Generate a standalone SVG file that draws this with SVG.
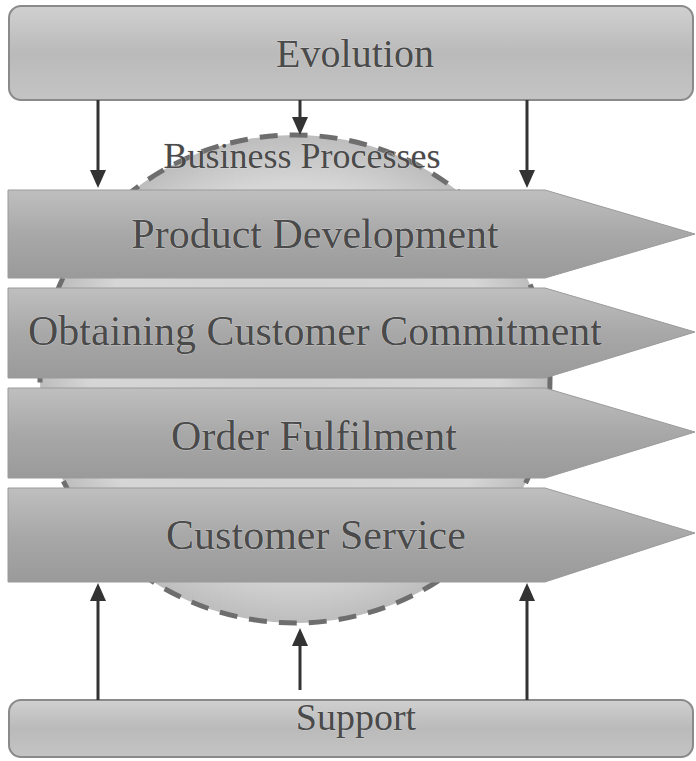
<svg xmlns="http://www.w3.org/2000/svg" width="696" height="761" viewBox="0 0 696 761">
<style>
.box{fill:url(#gBox);stroke:#8a8a8a;stroke-width:2}
.arrowShape{fill:url(#gArr);stroke:#9a9a9a;stroke-width:1}
.lbl{font-family:"Liberation Serif","Times New Roman",serif;fill:#4a4a4a;text-anchor:middle;stroke:#e0e0e0;stroke-width:0.6;paint-order:stroke}
.conn{stroke:#333;stroke-width:3;fill:none}
</style>
<defs>
<linearGradient id="gBox" x1="0" y1="0" x2="0" y2="1">
<stop offset="0" stop-color="#d0d0d0"/><stop offset="0.5" stop-color="#bababa"/><stop offset="1" stop-color="#c4c4c4"/>
</linearGradient>
<linearGradient id="gArr" x1="0" y1="0" x2="0" y2="1">
<stop offset="0" stop-color="#bfbfbf"/><stop offset="0.5" stop-color="#a8a8a8"/><stop offset="1" stop-color="#9a9a9a"/>
</linearGradient>
<radialGradient id="gEll" cx="0.5" cy="0.5" r="0.5">
<stop offset="0" stop-color="#cfcfcf"/><stop offset="0.8" stop-color="#d6d6d6"/><stop offset="1" stop-color="#bdbdbd"/>
</radialGradient>
<marker id="ah" viewBox="0 0 18 16" refX="14" refY="8" markerWidth="6" markerHeight="5.33" orient="auto" markerUnits="strokeWidth">
<path d="M0,0 L18,8 L0,16 z" fill="#333"/>
</marker>
</defs>
<rect width="696" height="761" fill="#fff"/>
<g id="business-processes">
<ellipse cx="295" cy="379" rx="255" ry="244" fill="url(#gEll)" stroke="#6e6e6e" stroke-width="5" stroke-dasharray="18 12"/>
<text class="lbl" x="302" y="168" font-size="36">Business Processes</text>
</g>
<g id="evolution">
<rect class="box" x="9" y="6" width="684" height="94" rx="12"/>
<text class="lbl" x="355" y="67" font-size="40">Evolution</text>
</g>
<g id="product-development">
<path class="arrowShape" d="M8,190 H545 L695,234 L545,278 H8 Z"/>
<text class="lbl" x="315" y="248" font-size="42">Product Development</text>
</g>
<g id="obtaining-customer-commitment">
<path class="arrowShape" d="M8,288 H545 L695,332 L545,378 H8 Z"/>
<text class="lbl" x="315" y="345" font-size="42">Obtaining Customer Commitment</text>
</g>
<g id="order-fulfilment">
<path class="arrowShape" d="M8,388 H545 L695,432 L545,478 H8 Z"/>
<text class="lbl" x="314" y="450" font-size="42">Order Fulfilment</text>
</g>
<g id="customer-service">
<path class="arrowShape" d="M8,488 H545 L695,533 L545,582 H8 Z"/>
<text class="lbl" x="316" y="549" font-size="42">Customer Service</text>
</g>
<g id="support">
<rect class="box" x="9" y="700" width="684" height="57" rx="12"/>
<text class="lbl" x="356" y="730" font-size="38">Support</text>
</g>
<g id="connectors">
<line class="conn" x1="98" y1="100" x2="98" y2="184" marker-end="url(#ah)"/>
<line class="conn" x1="300" y1="100" x2="300" y2="131" marker-end="url(#ah)"/>
<line class="conn" x1="527" y1="100" x2="527" y2="184" marker-end="url(#ah)"/>
<line class="conn" x1="98" y1="700" x2="98" y2="587" marker-end="url(#ah)"/>
<line class="conn" x1="300" y1="690" x2="300" y2="632" marker-end="url(#ah)"/>
<line class="conn" x1="527" y1="700" x2="527" y2="587" marker-end="url(#ah)"/>
</g>
</svg>
